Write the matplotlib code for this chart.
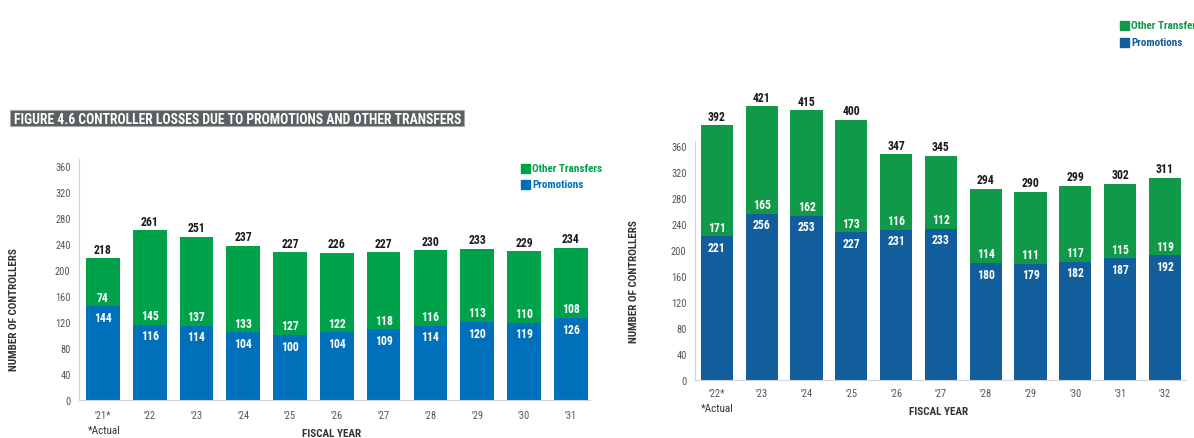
import matplotlib
matplotlib.use("Agg")
import matplotlib.pyplot as plt
from matplotlib.patches import Rectangle

# ---- data -----------------------------------------------------------------
years_a = ["'21*", "'22", "'23", "'24", "'25", "'26", "'27", "'28", "'29", "'30", "'31"]
promo_a = [144, 116, 114, 104, 100, 104, 109, 114, 120, 119, 126]
other_a = [74, 145, 137, 133, 127, 122, 118, 116, 113, 110, 108]
total_a = [218, 261, 251, 237, 227, 226, 227, 230, 233, 229, 234]

years_b = ["'22*", "'23", "'24", "'25", "'26", "'27", "'28", "'29", "'30", "'31", "'32"]
promo_b = [221, 256, 253, 227, 231, 233, 180, 179, 182, 187, 192]
other_b = [171, 165, 162, 173, 116, 112, 114, 111, 117, 115, 119]
total_b = [392, 421, 415, 400, 347, 345, 294, 290, 299, 302, 311]

yticks = list(range(0, 361, 40))

plt.rcParams["font.family"] = ["Roboto Condensed", "DejaVu Sans"]

W, H = 1194, 439
PX = 0.65  # pixels per unit on both value axes
fig = plt.figure(figsize=(W / 100, H / 100), dpi=100)


def px_axes(x0, x1, y_top, y_bot):
    return fig.add_axes([x0 / W, 1 - y_bot / H, (x1 - x0) / W, (y_bot - y_top) / H])


def fig_text(x, y, s, **kw):
    return fig.text(x / W, 1 - y / H, s, **kw)


def legend_item(x, y, label, color):
    fig.patches.append(Rectangle((x / W, 1 - (y + 4.5) / H), 9 / W, 9 / H,
                                 transform=fig.transFigure, color=color))
    fig_text(x + 11, y, label, ha="left", va="center", fontsize=8,
             weight="bold", color=color)


def draw_panel(ax, years, promo, other, total, green, blue, xlim, ymax, spine_top, xpad):
    x = list(range(len(years)))
    ax.bar(x, promo, width=0.72, color=blue, edgecolor="none")
    ax.bar(x, other, bottom=promo, width=0.72, color=green, edgecolor="none")
    ax.set_xlim(*xlim)
    ax.set_ylim(0, ymax)
    for s in ("top", "right"):
        ax.spines[s].set_visible(False)
    for s in ("left", "bottom"):
        ax.spines[s].set_color("#d4d4d4")
        ax.spines[s].set_linewidth(0.8)
    ax.spines["left"].set_bounds(0, spine_top)
    ax.set_yticks(yticks)
    ax.set_yticklabels([str(v) for v in yticks], fontsize=7.5, color="#555555")
    ax.set_xticks(x)
    ax.set_xticklabels(years, fontsize=7.5, color="#555555")
    ax.tick_params(length=0)
    ax.tick_params(axis="y", pad=6)
    ax.tick_params(axis="x", pad=xpad)
    for i in x:
        ax.text(i, total[i] + 4, str(total[i]), ha="center", va="bottom",
                fontsize=8.5, weight="bold", color="#1a1a1a")
        ax.text(i, promo[i] - 17, str(promo[i]), ha="center", va="center",
                fontsize=8.5, weight="bold", color="white")
        ax.text(i, promo[i] + 14, str(other[i]), ha="center", va="center",
                fontsize=8.5, weight="bold", color="white")


# ---- left chart -------------------------------------------------------------
axA = px_axes(79, 590, 401 - 372 * PX, 401)
draw_panel(axA, years_a, promo_a, other_a, total_a, "#00a14b", "#0070ba",
           (-0.51, 10.41), 372, 371, 7.5)

fig.patches.append(Rectangle((10 / W, 1 - 127 / H), 454 / W, 16 / H,
                             transform=fig.transFigure, fc="#5b6062",
                             ec="#a8a8a8", lw=0.8))
fig_text(14, 119.5, "FIGURE 4.6 CONTROLLER LOSSES DUE TO PROMOTIONS AND OTHER TRANSFERS",
         ha="left", va="center", fontsize=9.8, weight="bold", color="white")
fig_text(14, 310, "NUMBER OF CONTROLLERS", rotation=90,
         ha="center", va="center", fontsize=8, weight="bold", color="#333333")
fig_text(332, 434, "FISCAL YEAR", ha="center", va="center",
         fontsize=8, weight="bold", color="#333333")
fig_text(88, 431, "*Actual", ha="left", va="center", fontsize=8, color="#333333")

legend_item(521, 169.5, "Other Transfers", "#00a14b")
legend_item(521, 185, "Promotions", "#0070ba")

# ---- right chart ------------------------------------------------------------
axB = px_axes(695, 1186, 381 - 440 * PX, 381)
draw_panel(axB, years_b, promo_b, other_b, total_b, "#11994a", "#125e9c",
           (-0.49, 10.47), 440, 368, 6)

fig_text(634, 282, "NUMBER OF CONTROLLERS", rotation=90,
         ha="center", va="center", fontsize=8, weight="bold", color="#333333")
fig_text(939, 412, "FISCAL YEAR", ha="center", va="center",
         fontsize=8, weight="bold", color="#333333")
fig_text(701, 409, "*Actual", ha="left", va="center", fontsize=8, color="#333333")

legend_item(1120, 26, "Other Transfer", "#11994a")
legend_item(1120, 43, "Promotions", "#125e9c")

fig.savefig("out.png", dpi=100)
